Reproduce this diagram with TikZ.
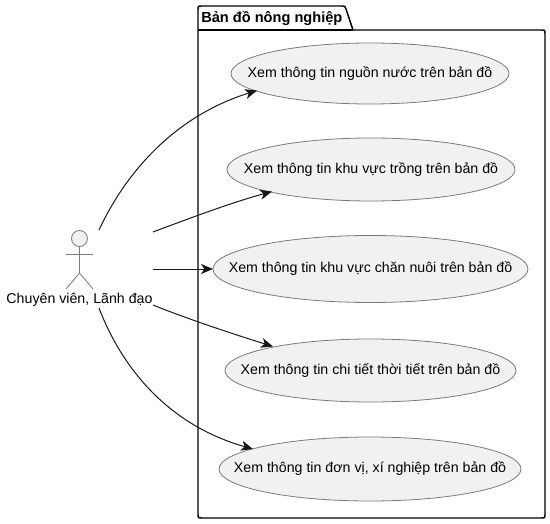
\documentclass[tikz,border=0pt]{standalone}
\usepackage{fontspec}
\setmainfont{Liberation Sans}
\usetikzlibrary{arrows.meta,shapes.geometric}
\definecolor{ucfill}{HTML}{F1F1F1}
\definecolor{ucline}{HTML}{7A7A7A}
\definecolor{conn}{HTML}{181818}
\newcommand{\uctext}[1]{\makebox[0pt]{\fontsize{10.65}{12}\selectfont #1}}
\tikzset{
  uc/.style={ellipse,draw=ucline,fill=ucfill,line width=0.6pt,inner sep=0pt,outer sep=0pt,text=black},
  lnk/.style={draw=conn,line width=0.75pt,-{Stealth[length=9pt,width=7.5pt,inset=2.5pt]}},
  actorline/.style={draw=ucline,line width=0.6pt},
  pkg/.style={draw=black,line width=1.1pt,line join=round}
}
\begin{document}
\begin{tikzpicture}[x=0.75pt,y=-0.75pt]
\useasboundingbox (0,0) rectangle (550,524);
% package
\draw[pkg] (198,30) -- (198,10) .. controls (198,6) .. (202,6) -- (342,6) .. controls (345,6) .. (346,9) -- (353,30) -- (541,30) .. controls (545,30) .. (545,34) -- (545,514) .. controls (545,518) .. (541,518) -- (202,518) .. controls (198,518) .. (198,514) -- cycle;
\draw[pkg] (198,30) -- (353,30);
\node[anchor=west,inner sep=0pt,font=\bfseries\fontsize{10.95}{12}\selectfont] (pkgtitle) at (201,18) {Bản đồ nông nghiệp};
% use cases
\node[uc,minimum width=278*0.75pt,minimum height=61*0.75pt] (a) at (370,73.5) {\uctext{Xem thông tin nguồn nước trên bản đồ}};
\node[uc,minimum width=288*0.75pt,minimum height=63*0.75pt] (b) at (371,169.5) {\uctext{Xem thông tin khu vực trồng trên bản đồ}};
\node[uc,minimum width=315*0.75pt,minimum height=67*0.75pt] (c) at (370.5,269) {\uctext{Xem thông tin khu vực chăn nuôi trên bản đồ}};
\node[uc,minimum width=291*0.75pt,minimum height=63*0.75pt] (d) at (370.5,370.5) {\uctext{Xem thông tin chi tiết thời tiết trên bản đồ}};
\node[uc,minimum width=302*0.75pt,minimum height=64*0.75pt] (e) at (370,469) {\uctext{Xem thông tin đơn vị, xí nghiệp trên bản đồ}};
% actor
\node[circle,draw=ucline,fill=ucfill,line width=0.6pt,minimum size=16*0.75pt,inner sep=0pt] (head) at (79.5,238.5) {};
\coordinate (hip) at (79.5,273);
\coordinate (armL) at (66,254);
\coordinate (armR) at (93,254);
\coordinate (legL) at (66,289);
\coordinate (legR) at (93,289);
\draw[actorline] (head.south) -- (hip) -- (legL);
\draw[actorline] (hip) -- (legR);
\draw[actorline] (armL) -- (armR);
\node[inner sep=0pt,font=\fontsize{10.65}{12}\selectfont] (actor) at (79.5,300) {Chuyên viên, Lãnh đạo};
% connector ends
\coordinate (s1) at (99,230);
\coordinate (s2) at (153,232);
\coordinate (s3) at (153,269);
\coordinate (s4) at (153,305);
\coordinate (s5) at (99,308);
\coordinate (t1) at (257,90.5);
\coordinate (t2) at (272,191.5);
\coordinate (t4) at (273,346.5);
\coordinate (t5) at (253,449);
\draw[lnk] (s1) .. controls (126,172) and (175,116) .. (t1);
\draw[lnk] (s2) .. controls (185,220) and (230,203) .. (t2);
\draw[lnk] (s3) -- (c.west);
\draw[lnk] (s4) .. controls (185,318) and (230,333) .. (t4);
\draw[lnk] (s5) .. controls (122,368) and (168,425) .. (t5);
\end{tikzpicture}
\end{document}
